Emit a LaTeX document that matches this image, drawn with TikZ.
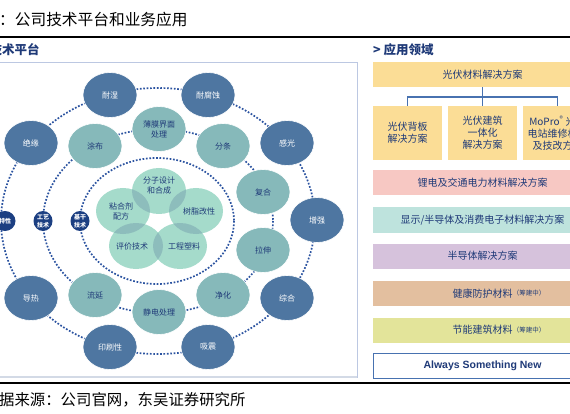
\documentclass[tikz,border=0pt]{standalone}
\usepackage{fontspec}
\setmainfont{Noto Sans CJK SC}
\newfontfamily\latinb{Liberation Sans}
\usetikzlibrary{shapes.geometric}
\definecolor{outerc}{HTML}{4E76A1}
\definecolor{midc}{HTML}{86B9BA}
\definecolor{navyc}{HTML}{1C3F82}
\definecolor{mint}{HTML}{A5DBCB}
\definecolor{mintov}{HTML}{8DBDBC}
\definecolor{dotc}{HTML}{2B53A0}
\definecolor{txt}{HTML}{1F3A78}
\definecolor{bA}{HTML}{FBDD96}
\definecolor{bB}{HTML}{F7C8C3}
\definecolor{bC}{HTML}{BEE3DD}
\definecolor{bD}{HTML}{D6C2DC}
\definecolor{bE}{HTML}{E3BF9F}
\definecolor{bF}{HTML}{E3E49A}
\definecolor{lnk}{HTML}{4872B0}
\definecolor{framec}{HTML}{BCC8E2}
\definecolor{frameb}{HTML}{D3DAE6}
\tikzset{
 outerell/.style={ellipse, fill=outerc, draw=white, line width=0.6, minimum width=54, minimum height=45, inner sep=0, text=white, font=\fontsize{8}{10}\selectfont, align=center},
 midell/.style={ellipse, fill=midc, draw=white, line width=0.6, minimum width=54, minimum height=45, inner sep=0, text=txt, font=\fontsize{8}{10}\selectfont, align=center},
 smallc/.style={ellipse, fill=navyc, minimum width=19, minimum height=20, inner sep=0, text=white, font=\fontsize{6}{8}\selectfont\bfseries, align=center},
 itext/.style={text=txt, font=\fontsize{8}{10}\selectfont, align=center, inner sep=0},
 dotring/.style={draw=dotc, line width=1.7pt, dash pattern=on 1.7pt off 1.7pt},
 appbox/.style={rectangle, minimum width=219, minimum height=25, inner sep=0, text=txt, font=\fontsize{10}{12}\selectfont},
 subbox/.style={rectangle, fill=bA, minimum width=69, minimum height=54, inner sep=0, align=center, text=txt, font=\fontsize{10}{12}\selectfont},
 boxtext/.style={text=txt, inner sep=0, font=\fontsize{10}{12}\selectfont},
 smalltext/.style={text=txt, inner sep=0, font=\fontsize{6.5}{8}\selectfont},
 lnkline/.style={draw=lnk, line width=1.2},
}
\begin{document}
\begin{tikzpicture}[x=1pt,y=-1pt]
\useasboundingbox (0,0) rectangle (570,414);
% title and rules
\node[anchor=west, inner sep=0, font=\fontsize{15.7}{18}\selectfont] (title) at (-1,20) {：公司技术平台和业务应用};
\coordinate (tl) at (0,37); \coordinate (tr) at (570,37);
\draw[line width=1.5] (tl) -- (tr);
\node[anchor=west, inner sep=0, text=txt, font=\fontsize{12.5}{14}\selectfont\bfseries] (lhead) at (-10.5,50) {技术平台};
\node[anchor=west, inner sep=0, text=txt, font=\fontsize{12.5}{14}\selectfont\bfseries] (rhead) at (373,50) {> 应用领域};
% left frame
\draw[framec, line width=0.8] (-1,62) rectangle (357,377);
\coordinate (fl) at (-1,377); \coordinate (fr) at (357,377);
\draw[frameb, line width=2.5] (fl) -- (fr);
\coordinate (bl) at (0,383); \coordinate (br) at (570,383);
\draw[line width=1.5] (bl) -- (br);
\node[anchor=west, inner sep=0, font=\fontsize{15.4}{18}\selectfont] (src) at (-16.5,400) {数据来源：公司官网，东吴证券研究所};
% rings
\coordinate (ctr) at (158,221);
\draw[dotring] (ctr) ellipse [x radius=157, y radius=133];
\draw[dotring] (ctr) ellipse [x radius=115, y radius=92];
\draw[dotring] (157,221) ellipse [x radius=77, y radius=63];
% outer nodes
\node[outerell] (o1) at (110,95) {耐湿};
\node[outerell] (o2) at (208,95) {耐腐蚀};
\node[outerell] (o3) at (31,143) {绝缘};
\node[outerell] (o4) at (287,143) {感光};
\node[outerell] (o5) at (317,220) {增强};
\node[outerell] (o6) at (287,298) {综合};
\node[outerell] (o7) at (31,298) {导热};
\node[outerell] (o8) at (110,347) {印刷性};
\node[outerell] (o9) at (208,347) {吸震};
\node[smallc, minimum width=21] (n3) at (5,221) {特性};
% middle nodes
\node[midell] (m1) at (95,146) {涂布};
\node[midell] (m2) at (159,129) {薄膜界面\\处理};
\node[midell] (m3) at (223,146) {分条};
\node[midell] (m4) at (263,192) {复合};
\node[midell] (m5) at (263,250) {拉伸};
\node[midell] (m6) at (223,295) {净化};
\node[midell] (m7) at (159,312) {静电处理};
\node[midell] (m8) at (95,295) {流延};
\node[smallc] (n2) at (43,221) {工艺\\技术};
\node[smallc] (n1) at (80,221) {基干\\技术};
% inner overlapping circles
\coordinate (i1) at (159,191);
\coordinate (i2) at (123,211);
\coordinate (i3) at (196,211);
\coordinate (i4) at (136,246);
\coordinate (i5) at (180,246);
\foreach \c in {i1,i2,i3,i4,i5}{
  \fill[mint] (\c) ellipse [x radius=27, y radius=23];
}
\foreach \a/\b in {i1/i2, i1/i3, i2/i4, i3/i5, i4/i5}{
  \begin{scope}
    \clip (\a) ellipse [x radius=27, y radius=23];
    \fill[mintov] (\b) ellipse [x radius=27, y radius=23];
  \end{scope}
}
\node[itext] (t1) at (159,186) {分子设计\\和合成};
\node[itext] (t2) at (121,211) {粘合剂\\配方};
\node[itext] (t3) at (199,211) {树脂改性};
\node[itext] (t4) at (132,246) {评价技术};
\node[itext] (t5) at (184,246) {工程塑料};
% right boxes
\node[appbox, fill=bA] (b1) at (482.5,74.5) {光伏材料解决方案};
\node[subbox] (s1) at (407.5,133) {光伏背板\\解决方案};
\node[subbox] (s2) at (482.5,133) {光伏建筑\\一体化\\解决方案};
\node[subbox] (s3) at (557.5,133) {MoPro\textsuperscript{®} 光伏\\电站维修材料\\及技改方案};
\coordinate (j) at (482.5,97);
\draw[lnkline] (b1.south) -- (j);
\draw[lnkline] (j) -- (s2.north);
\draw[lnkline] (s1.north) |- (j) -| (s3.north);
\node[appbox, fill=bB] (b2) at (482.5,182.5) {锂电及交通电力材料解决方案};
\node[appbox, fill=bC] (b3) at (482.5,220) {显示/半导体及消费电子材料解决方案};
\node[appbox, fill=bD] (b4) at (482.5,256) {半导体解决方案};
\node[appbox, fill=bE] (b5) at (482.5,293.5) {};
\node[boxtext] (b5t) at (482.5,293.5) {健康防护材料};
\node[smalltext, anchor=west] (b5s) at (b5t.east) {（筹建中）};
\node[appbox, fill=bF] (b6) at (482.5,330) {};
\node[boxtext] (b6t) at (482.5,330) {节能建筑材料};
\node[smalltext, anchor=west] (b6s) at (b6t.east) {（筹建中）};
\node[appbox, fill=white, draw=lnk, line width=1, font=\latinb\fontsize{10.5}{12}\selectfont\bfseries] (b7) at (482.5,366) {Always Something New};
\end{tikzpicture}
\end{document}
